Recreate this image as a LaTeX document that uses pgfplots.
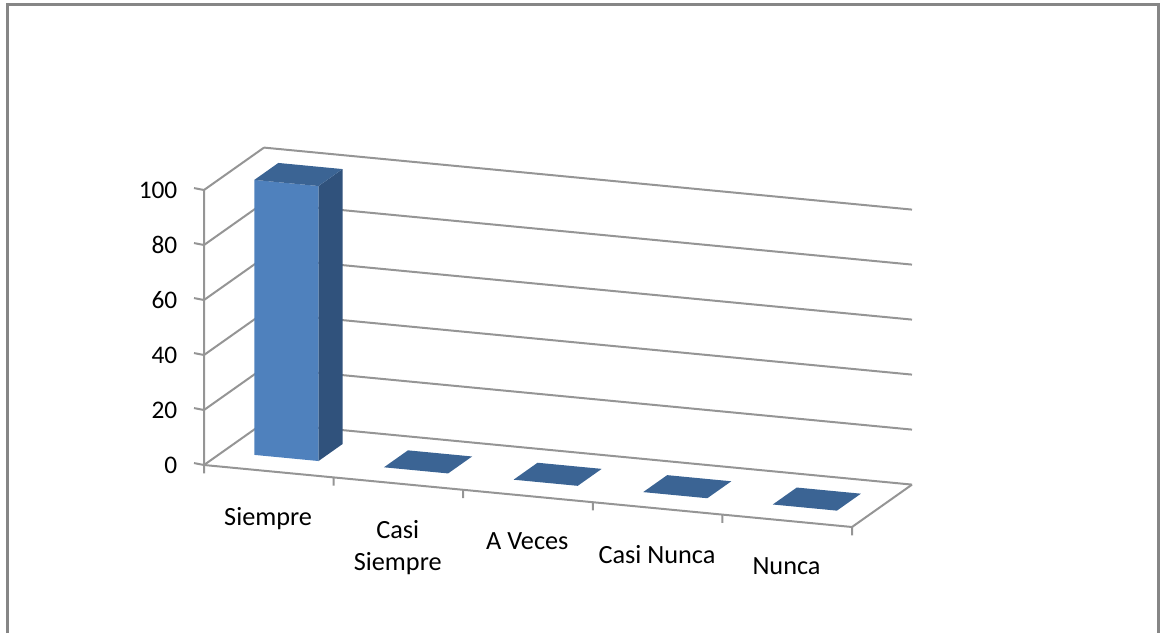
\documentclass[border=0pt]{standalone}
\usepackage{fontspec}
\setmainfont{Carlito}
\usepackage{pgfplots}
\pgfplotsset{compat=1.18}
\definecolor{linegray}{HTML}{959595}
\definecolor{framegray}{HTML}{868686}
\definecolor{barfront}{HTML}{4F81BD}
\definecolor{bartop}{HTML}{3B6494}
\definecolor{barside}{HTML}{30527C}
\begin{document}
\begin{tikzpicture}[x=1pt,y=1pt]
\path[use as bounding box] (0,0) rectangle (870,474.75);
% frame has no bottom edge in the reference
\draw[framegray,line width=2.2pt] (5.5,0) -- (5.5,471.5) -- (868.6,471.5) -- (868.6,0);
\begin{axis}[
  at={(153pt,126pt)}, anchor=origin,
  x={(97.2pt,-9.3pt)}, y={(45pt,31.8pt)}, z={(0pt,2.0625pt)},
  xmin=0, xmax=5, ymin=0, ymax=1, zmin=0, zmax=100,
  clip=false,
  unbounded coords=jump,
  axis line style={draw=none},
  major tick length=0pt,
  xtick={0.5,1.5,2.5,3.5,4.5},
  xticklabels={Siempre,{Casi\\Siempre},A Veces,Casi Nunca,Nunca},
  ytick=\empty,
  ztick={0,20,40,60,80,100},
  zmajorgrids=true,
  grid style={linegray,line width=1.5pt},
  /pgf/number format/assume math mode=true,
  x tick label style={font=\fontsize{19.7}{24}\selectfont,anchor=north,align=center,yshift=-24pt,xshift=-0.5pt},
  z tick label style={font=\fontsize{19}{24}\selectfont,anchor=east,xshift=-16.5pt},
]
% floor edges and axis lines
\addplot3[linegray,line width=1.5pt] coordinates {
  (0,0,100) (0,0,0) (5,0,0) (5,1,0)
};
% tick marks
\addplot3[linegray,line width=1.5pt] coordinates {
  (0,0,0) (0,0,-3) (nan,nan,nan)
  (1,0,0) (1,0,-3) (nan,nan,nan)
  (2,0,0) (2,0,-3) (nan,nan,nan)
  (3,0,0) (3,0,-3) (nan,nan,nan)
  (4,0,0) (4,0,-3) (nan,nan,nan)
  (5,0,0) (5,0,-3) (nan,nan,nan)
  (0,0,0) (-0.077,0,0.35) (nan,nan,nan)
  (0,0,20) (-0.077,0,20.35) (nan,nan,nan)
  (0,0,40) (-0.077,0,40.35) (nan,nan,nan)
  (0,0,60) (-0.077,0,60.35) (nan,nan,nan)
  (0,0,80) (-0.077,0,80.35) (nan,nan,nan)
  (0,0,100) (-0.077,0,100.35)
};
% Siempre = 100
\addplot3[fill=barfront,draw=none] coordinates {(0.245,0.31,0) (0.74,0.31,0) (0.74,0.31,100) (0.245,0.31,100)};
\addplot3[fill=barside,draw=none] coordinates {(0.74,0.31,0) (0.74,0.71,0) (0.74,0.71,100) (0.74,0.31,100)};
\addplot3[fill=bartop,draw=none] coordinates {(0.245,0.31,100) (0.74,0.31,100) (0.74,0.71,100) (0.245,0.71,100)};
% the others = 0
\addplot3[fill=bartop,draw=none] coordinates {(1.245,0.31,0) (1.74,0.31,0) (1.74,0.71,0) (1.245,0.71,0)};
\addplot3[fill=bartop,draw=none] coordinates {(2.245,0.31,0) (2.74,0.31,0) (2.74,0.71,0) (2.245,0.71,0)};
\addplot3[fill=bartop,draw=none] coordinates {(3.245,0.31,0) (3.74,0.31,0) (3.74,0.71,0) (3.245,0.71,0)};
\addplot3[fill=bartop,draw=none] coordinates {(4.245,0.31,0) (4.74,0.31,0) (4.74,0.71,0) (4.245,0.71,0)};
\end{axis}
\end{tikzpicture}
\end{document}
